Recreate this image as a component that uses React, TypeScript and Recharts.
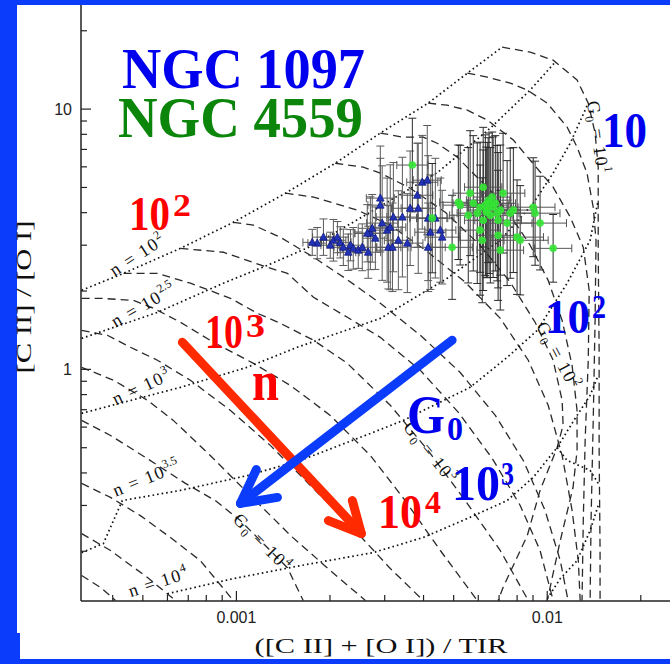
import React from 'react';
import { ComposedChart, Line, Scatter, XAxis, YAxis, ErrorBar } from 'recharts';

// all values are log10: x = log(([C II]+[O I])/TIR), y = log([C II]/[O I])

// PDR model grid, constant density n (dotted)
const nGrid2 = [[-3.498, 0.304], [-3.363, 0.369], [-3.18, 0.465], [-3.01, 0.565], [-2.842, 0.677], [-2.682, 0.792], [-2.537, 0.908], [-2.383, 1.023], [-2.257, 1.138], [-2.145, 1.238]];
const nGrid25 = [[-3.498, 0.119], [-3.254, 0.219], [-3.042, 0.331], [-2.9, 0.4], [-2.752, 0.477], [-2.569, 0.604], [-2.351, 0.758], [-2.183, 0.927], [-2.055, 1.073], [-1.974, 1.181]];
const nGrid3 = [[-3.498, -0.169], [-3.18, -0.069], [-2.965, 0.008], [-2.804, 0.085], [-2.537, 0.196], [-2.322, 0.35], [-2.151, 0.496], [-2.045, 0.638], [-1.981, 0.754], [-1.926, 0.869], [-1.868, 1.023]];
const nGrid35 = [[-3.498, -0.704], [-3.428, -0.669], [-3.367, -0.504], [-3.18, -0.465], [-2.965, -0.408], [-2.794, -0.35], [-2.56, -0.242], [-2.463, -0.196], [-2.248, -0.069], [-2.129, 0.046], [-2.032, 0.15], [-1.936, 0.331], [-1.862, 0.496], [-1.836, 0.65]];
const nGrid4 = [[-3.222, -0.862], [-3.01, -0.804], [-2.794, -0.754], [-2.56, -0.704], [-2.399, -0.646], [-2.257, -0.573], [-2.129, -0.504], [-2.045, -0.415], [-1.968, -0.3], [-1.91, -0.188], [-1.862, -0.1], [-1.836, -0.023]];
const nGrid45 = [[-1.968, -0.3], [-1.936, -0.35], [-1.862, -0.388], [-1.836, -0.438]];
const nGrid5 = [[-2.0, -0.881], [-1.958, -0.804], [-1.904, -0.735], [-1.862, -0.619], [-1.836, -0.523]];

// constant G0 (dashed)
const g100 = [[-2.145, 1.238], [-2.055, 1.219], [-1.981, 1.188], [-1.904, 1.112], [-1.868, 1.023], [-1.846, 0.908], [-1.836, 0.777], [-1.836, 0.458], [-1.833, 0.073], [-1.833, -0.312], [-1.83, -0.696], [-1.83, -0.888]];
const g125 = [[-2.257, 1.138], [-2.193, 1.123], [-2.119, 1.1], [-2.064, 1.073], [-2.0, 1.023], [-1.936, 0.931], [-1.904, 0.854], [-1.872, 0.754], [-1.852, 0.623], [-1.843, 0.496], [-1.846, 0.188], [-1.852, -0.196], [-1.859, -0.581], [-1.862, -0.888]];
const g150 = [[-2.383, 1.023], [-2.322, 1.015], [-2.257, 0.996], [-2.193, 0.958], [-2.109, 0.881], [-2.055, 0.804], [-1.981, 0.7], [-1.926, 0.585], [-1.884, 0.469], [-1.865, 0.304], [-1.868, 0.035], [-1.878, -0.273], [-1.884, -0.581], [-1.888, -0.888]];
const g175 = [[-2.537, 0.908], [-2.463, 0.892], [-2.399, 0.892], [-2.354, 0.869], [-2.289, 0.815], [-2.248, 0.765], [-2.183, 0.688], [-2.119, 0.592], [-2.055, 0.477], [-1.997, 0.342], [-1.952, 0.188], [-1.92, 0.015], [-1.904, -0.158], [-1.904, -0.312], [-1.917, -0.454], [-1.958, -0.658], [-2.0, -0.888]];
const g200 = [[-2.682, 0.792], [-2.592, 0.777], [-2.537, 0.754], [-2.441, 0.696], [-2.328, 0.604], [-2.216, 0.477], [-2.119, 0.335], [-2.039, 0.181], [-1.981, 0.035], [-1.952, -0.119], [-1.949, -0.215], [-1.968, -0.3], [-2.023, -0.465], [-2.064, -0.638], [-2.142, -0.838], [-2.158, -0.888]];
const g225 = [[-2.842, 0.677], [-2.752, 0.662], [-2.611, 0.612], [-2.505, 0.554], [-2.392, 0.458], [-2.264, 0.335], [-2.151, 0.196], [-2.061, 0.035], [-1.997, -0.138], [-1.952, -0.331], [-1.92, -0.542], [-1.9, -0.735], [-1.894, -0.888]];
const g250 = [[-3.01, 0.565], [-2.945, 0.554], [-2.859, 0.508], [-2.752, 0.431], [-2.65, 0.35], [-2.537, 0.254], [-2.408, 0.131], [-2.28, -0.012], [-2.167, -0.177], [-2.077, -0.35], [-2.007, -0.542], [-1.958, -0.735], [-1.933, -0.888]];
const g275 = [[-3.18, 0.465], [-3.042, 0.45], [-2.9, 0.392], [-2.836, 0.369], [-2.752, 0.277], [-2.643, 0.2], [-2.537, 0.123], [-2.408, -0.004], [-2.286, -0.165], [-2.177, -0.342], [-2.087, -0.523], [-2.023, -0.696], [-1.981, -0.888]];
const g300 = [[-3.363, 0.369], [-3.254, 0.369], [-3.148, 0.331], [-3.019, 0.273], [-2.932, 0.215], [-2.859, 0.177], [-2.752, 0.112], [-2.643, 0.023], [-2.505, -0.138], [-2.383, -0.312], [-2.264, -0.504], [-2.151, -0.696], [-2.061, -0.888]];
const g325 = [[-3.498, 0.273], [-3.437, 0.273], [-3.331, 0.265], [-3.267, 0.235], [-3.18, 0.181], [-3.074, 0.104], [-2.945, 0.023], [-2.826, -0.062], [-2.698, -0.177], [-2.569, -0.331], [-2.457, -0.504], [-2.344, -0.696], [-2.225, -0.888]];
const g350 = [[-3.498, 0.15], [-3.415, 0.131], [-3.341, 0.085], [-3.254, 0.035], [-3.148, -0.042], [-3.019, -0.158], [-2.891, -0.292], [-2.762, -0.446], [-2.633, -0.6], [-2.505, -0.765], [-2.399, -0.888]];
const g375 = [[-3.498, 0.008], [-3.395, -0.042], [-3.286, -0.119], [-3.203, -0.196], [-3.084, -0.331], [-2.955, -0.485], [-2.826, -0.638], [-2.698, -0.773], [-2.585, -0.888]];
const g400 = [[-3.498, -0.196], [-3.405, -0.254], [-3.293, -0.338], [-3.164, -0.438], [-3.068, -0.504], [-2.987, -0.581], [-2.907, -0.677], [-2.836, -0.762], [-2.785, -0.888]];
const g425 = [[-3.498, -0.438], [-3.405, -0.492], [-3.309, -0.562], [-3.212, -0.646], [-3.116, -0.735], [-3.01, -0.888]];
const g450 = [[-3.498, -0.631], [-3.405, -0.696], [-3.286, -0.8], [-3.196, -0.888]];
const g475 = [[-3.498, -0.792], [-3.437, -0.838], [-3.389, -0.888]];

// observations: [x, y, xErr, yErr] (dex)
const ngc1097 = [
  [-2.74, 0.485, 0.03, 0.06], [-2.72, 0.508, 0.035, 0.07], [-2.698, 0.477, 0.03, 0.05], [-2.688, 0.496, 0.04, 0.08],
  [-2.666, 0.488, 0.035, 0.06], [-2.656, 0.469, 0.03, 0.07], [-2.633, 0.477, 0.04, 0.06], [-2.624, 0.465, 0.035, 0.08],
  [-2.608, 0.458, 0.03, 0.07], [-2.595, 0.469, 0.045, 0.09], [-2.576, 0.45, 0.04, 0.1], [-2.569, 0.523, 0.05, 0.14],
  [-2.553, 0.504, 0.04, 0.12], [-2.537, 0.658, 0.045, 0.2], [-2.537, 0.631, 0.04, 0.18], [-2.531, 0.562, 0.05, 0.22],
  [-2.515, 0.535, 0.045, 0.2], [-2.505, 0.546, 0.05, 0.24], [-2.511, 0.469, 0.04, 0.16], [-2.495, 0.585, 0.055, 0.21],
  [-2.479, 0.496, 0.045, 0.19], [-2.466, 0.585, 0.05, 0.23], [-2.441, 0.619, 0.06, 0.22], [-2.418, 0.669, 0.05, 0.2],
  [-2.415, 0.619, 0.055, 0.25], [-2.402, 0.719, 0.05, 0.18], [-2.386, 0.727, 0.045, 0.21], [-2.383, 0.581, 0.06, 0.24],
  [-2.376, 0.527, 0.05, 0.22], [-2.383, 0.469, 0.055, 0.17], [-2.36, 0.581, 0.06, 0.23], [-2.344, 0.535, 0.05, 0.2],
  [-2.338, 0.508, 0.055, 0.18], [-2.45, 0.485, 0.05, 0.19], [-2.579, 0.523, 0.04, 0.11], [-2.675, 0.508, 0.035, 0.06],
  [-2.563, 0.542, 0.045, 0.13], [-2.498, 0.469, 0.05, 0.17], [-2.756, 0.488, 0.03, 0.05], [-2.64, 0.45, 0.035, 0.07],
];
const ngc4559 = [
  [-2.434, 0.785, 0.05, 0.18], [-2.286, 0.642, 0.06, 0.22], [-2.248, 0.677, 0.055, 0.24], [-2.238, 0.638, 0.065, 0.26],
  [-2.216, 0.623, 0.07, 0.25], [-2.206, 0.7, 0.06, 0.23], [-2.199, 0.631, 0.075, 0.27], [-2.193, 0.612, 0.065, 0.26],
  [-2.19, 0.65, 0.07, 0.24], [-2.177, 0.662, 0.06, 0.25], [-2.174, 0.623, 0.08, 0.27], [-2.161, 0.6, 0.07, 0.26],
  [-2.151, 0.612, 0.065, 0.25], [-2.142, 0.677, 0.07, 0.23], [-2.158, 0.573, 0.075, 0.26], [-2.129, 0.562, 0.08, 0.24],
  [-2.119, 0.6, 0.07, 0.25], [-2.206, 0.573, 0.06, 0.27], [-2.216, 0.535, 0.065, 0.25], [-2.209, 0.496, 0.07, 0.24],
  [-2.097, 0.508, 0.085, 0.22], [-2.087, 0.496, 0.09, 0.21], [-2.045, 0.623, 0.07, 0.19], [-2.039, 0.6, 0.08, 0.2],
  [-2.023, 0.562, 0.085, 0.18], [-1.981, 0.465, 0.06, 0.13], [-2.306, 0.469, 0.065, 0.2], [-2.151, 0.458, 0.075, 0.23],
  [-2.254, 0.592, 0.06, 0.26], [-2.225, 0.6, 0.065, 0.27], [-2.183, 0.592, 0.07, 0.26], [-2.109, 0.612, 0.075, 0.24],
  [-2.158, 0.515, 0.07, 0.25], [-2.167, 0.638, 0.065, 0.26], [-2.187, 0.638, 0.07, 0.27], [-2.196, 0.604, 0.06, 0.25],
  [-2.28, 0.631, 0.055, 0.23], [-2.37, 0.581, 0.05, 0.21],
];

// annotation arrows (n and G0 directions)
const nArrow = [[-3.174, 0.104], [-2.598, -0.631]];
const nArrowHead = [[-2.704, -0.581], [-2.598, -0.631], [-2.627, -0.504]];
const gArrow = [[-2.306, 0.112], [-2.987, -0.515]];
const gArrowHead = [[-2.936, -0.385], [-2.987, -0.515], [-2.868, -0.492]];

// axis ticks
const xMajorTicks = [0.001, 0.01];
const xMajorLabels = ['0.001', '0.01'];
const xMinorTicks = [0.0004, 0.0005, 0.0006, 0.0007, 0.0008, 0.0009, 0.002, 0.003, 0.004, 0.005, 0.006, 0.007, 0.008, 0.009, 0.02];
const yMajorTicks = [1, 10];
const yMajorLabels = ['1', '10'];
const yMinorTicks = [0.2, 0.3, 0.4, 0.5, 0.6, 0.7, 0.8, 0.9, 2, 3, 4, 5, 6, 7, 8, 9, 20];

const SERIF = '"Liberation Serif", "Times New Roman", serif';
const SANS = '"Liberation Sans", Arial, sans-serif';

const nCurves = [nGrid2, nGrid25, nGrid3, nGrid35, nGrid4, nGrid45, nGrid5];
const gCurves = [g100, g125, g150, g175, g200, g225, g250, g275, g300, g325, g350, g375, g400, g425, g450, g475];

const toPts = (c: number[][]) => c.map(([x, y]) => ({ x, y }));
const toObs = (c: number[][]) => c.map(([x, y, ex, ey]) => ({ x, y, ex, ey }));
const logs = (a: number[]) => a.map((v) => Math.log10(v));
const near = (a: number, b: number) => Math.abs(a - b) < 1e-6;
const majorIndex = (majors: number[], v: number) => majors.findIndex((t) => near(Math.log10(t), v));

const xTicks = logs([...xMinorTicks, ...xMajorTicks]);
const yTicks = logs([...yMinorTicks, ...yMajorTicks]);

const BottomTick = (p: any) => {
  const i = majorIndex(xMajorTicks, p.payload.value);
  return (
    <g>
      <line x1={p.x} y1={p.y} x2={p.x} y2={p.y - (i >= 0 ? 10 : 6)} stroke="#222" strokeWidth={1.2} />
      {i >= 0 && (
        <text x={p.x} y={p.y + 22} textAnchor="middle" fontSize={16} fontFamily={SANS} fill="#222">
          {xMajorLabels[i]}
        </text>
      )}
    </g>
  );
};

const TopTick = (p: any) => {
  const i = majorIndex(xMajorTicks, p.payload.value);
  return <line x1={p.x} y1={p.y} x2={p.x} y2={p.y + (i >= 0 ? 10 : 6)} stroke="#222" strokeWidth={1.2} />;
};

const LeftTick = (p: any) => {
  const i = majorIndex(yMajorTicks, p.payload.value);
  return (
    <g>
      <line x1={p.x} y1={p.y} x2={p.x + (i >= 0 ? 10 : 6)} y2={p.y} stroke="#222" strokeWidth={1.2} />
      {i >= 0 && (
        <text x={p.x - 9} y={p.y + 6} textAnchor="end" fontSize={16} fontFamily={SANS} fill="#222">
          {yMajorLabels[i]}
        </text>
      )}
    </g>
  );
};

const RightTick = (p: any) => {
  const i = majorIndex(yMajorTicks, p.payload.value);
  if (i < 0) return <g />;
  return <line x1={p.x - 10} y1={p.y} x2={p.x} y2={p.y} stroke="#222" strokeWidth={1.2} />;
};

const Tri = (p: any) => (
  <polygon
    points={`${p.cx},${p.cy - 4.2} ${p.cx - 3.8},${p.cy + 3} ${p.cx + 3.8},${p.cy + 3}`}
    fill="#2233b8"
    stroke="#101a80"
    strokeWidth={0.8}
  />
);

const Dot = (p: any) => <circle cx={p.cx} cy={p.cy} r={3.8} fill="#33e633" fillOpacity={0.9} />;

const Small = ({ cx, cy, angle, children }: any) => (
  <text
    x={cx}
    y={cy + 6}
    transform={`rotate(${angle} ${cx} ${cy})`}
    textAnchor="middle"
    fontSize={18}
    fontFamily={SERIF}
    fill="#111"
    letterSpacing={1.5}
  >
    {children}
  </text>
);

const Sup = ({ children }: any) => (
  <tspan fontSize={12} dy={-8} letterSpacing={0}>
    {children}
  </tspan>
);

const G0 = () => (
  <>
    G<tspan fontSize={12} dy={4}>0</tspan>
    <tspan dy={-4}> = 10</tspan>
  </>
);

const axisIds = { xAxisId: 'b', yAxisId: 'l' };

export default function App() {
  return (
    <div style={{ position: 'absolute', left: 0, top: 0, width: 670, height: 664, overflow: 'hidden', background: '#0b3cfb' }}>
      <div style={{ position: 'absolute', left: 17, top: 5, width: 653, height: 628, background: '#fff' }} />
      <div style={{ position: 'absolute', left: 20, top: 633, width: 650, height: 26, background: '#fff' }} />
      <div style={{ position: 'absolute', left: 0, top: 0 }}>
        <ComposedChart width={670} height={664} margin={{ top: 5, right: 0, bottom: 0, left: 0 }}>
          <XAxis
            xAxisId="b"
            dataKey="x"
            type="number"
            domain={[-3.5, -1.605]}
            allowDataOverflow
            ticks={xTicks}
            interval={0}
            tickSize={0}
            tickMargin={0}
            tickLine={false}
            tick={BottomTick}
            height={63}
            axisLine={{ stroke: '#222', strokeWidth: 1.5 }}
          />
          <XAxis
            xAxisId="t"
            orientation="top"
            type="number"
            domain={[-3.5, -1.605]}
            allowDataOverflow
            ticks={xTicks}
            interval={0}
            tickSize={0}
            tickMargin={0}
            tickLine={false}
            tick={TopTick}
            height={0}
            axisLine={false}
          />
          <YAxis
            yAxisId="l"
            dataKey="y"
            type="number"
            domain={[-0.89, 1.4]}
            allowDataOverflow
            ticks={yTicks}
            interval={0}
            tickSize={0}
            tickMargin={0}
            tickLine={false}
            tick={LeftTick}
            width={81}
            axisLine={{ stroke: '#222', strokeWidth: 1.5 }}
          />
          <YAxis
            yAxisId="r"
            orientation="right"
            type="number"
            domain={[-0.89, 1.4]}
            allowDataOverflow
            ticks={logs(yMajorTicks)}
            interval={0}
            tickSize={0}
            tickMargin={0}
            tickLine={false}
            tick={RightTick}
            width={0}
            axisLine={false}
          />

          {gCurves.map((c, i) => (
            <Line
              key={`g${i}`}
              {...axisIds}
              data={toPts(c)}
              dataKey="y"
              type="linear"
              dot={false}
              activeDot={false}
              stroke="#2a2a2a"
              strokeWidth={1.3}
              strokeDasharray="8 5"
              isAnimationActive={false}
            />
          ))}
          {nCurves.map((c, i) => (
            <Line
              key={`n${i}`}
              {...axisIds}
              data={toPts(c)}
              dataKey="y"
              type="linear"
              dot={false}
              activeDot={false}
              stroke="#111"
              strokeWidth={1.7}
              strokeDasharray="1.6 3"
              isAnimationActive={false}
            />
          ))}

          <Scatter {...axisIds} data={toObs(ngc1097)} dataKey="y" shape={Tri} isAnimationActive={false}>
            <ErrorBar dataKey="ey" direction="y" width={4} stroke="#5a5a5a" strokeWidth={1} />
            <ErrorBar dataKey="ex" direction="x" width={4} stroke="#5a5a5a" strokeWidth={1} />
          </Scatter>
          <Scatter {...axisIds} data={toObs(ngc4559)} dataKey="y" shape={Dot} isAnimationActive={false}>
            <ErrorBar dataKey="ey" direction="y" width={4} stroke="#2a2a2a" strokeWidth={1} />
            <ErrorBar dataKey="ex" direction="x" width={4} stroke="#555" strokeWidth={1} />
          </Scatter>

          {[nArrow, nArrowHead].map((c, i) => (
            <Line
              key={`na${i}`}
              {...axisIds}
              data={toPts(c)}
              dataKey="y"
              type="linear"
              dot={false}
              activeDot={false}
              stroke="#ff2a00"
              strokeWidth={9}
              strokeLinecap="round"
              strokeLinejoin="round"
              isAnimationActive={false}
            />
          ))}
          {[gArrow, gArrowHead].map((c, i) => (
            <Line
              key={`ga${i}`}
              {...axisIds}
              data={toPts(c)}
              dataKey="y"
              type="linear"
              dot={false}
              activeDot={false}
              stroke="#0b3cfb"
              strokeWidth={9}
              strokeLinecap="round"
              strokeLinejoin="round"
              isAnimationActive={false}
            />
          ))}
        </ComposedChart>
      </div>

      <svg width={670} height={664} style={{ position: 'absolute', left: 0, top: 0, pointerEvents: 'none' }}>
        <text x={31} y={297} transform="rotate(-90 31 297)" textAnchor="middle" fontSize={20} fontFamily={SERIF} fill="#111" textLength={153} lengthAdjust="spacingAndGlyphs">
          [C II] / [O I]
        </text>
        <text x={381} y={653} textAnchor="middle" fontSize={22} fontFamily={SERIF} fill="#111" textLength={253} lengthAdjust="spacingAndGlyphs">
          ([C II] + [O I]) / TIR
        </text>

        <Small cx={137} cy={255} angle={-33}>n = 10<Sup>2</Sup></Small>
        <Small cx={143} cy={305} angle={-30}>n = 10<Sup>2.5</Sup></Small>
        <Small cx={141} cy={387} angle={-25}>n = 10<Sup>3</Sup></Small>
        <Small cx={146} cy={478} angle={-22}>n = 10<Sup>3.5</Sup></Small>
        <Small cx={158} cy={582} angle={-18}>n = 10<Sup>4</Sup></Small>
        <Small cx={262} cy={542} angle={45}><G0 /><Sup>4</Sup></Small>
        <Small cx={430} cy={452} angle={51}><G0 /><Sup>3</Sup></Small>
        <Small cx={558} cy={355} angle={62}><G0 /><Sup>2</Sup></Small>
        <Small cx={598} cy={137} angle={82}><G0 /><Sup>1</Sup></Small>

        <g fontFamily={SERIF} fontWeight="bold">
          <text x={122} y={88} fontSize={56} fill="#0000ee" textLength={243} lengthAdjust="spacingAndGlyphs">NGC 1097</text>
          <text x={118} y={137} fontSize={56} fill="#0b860b" textLength={245} lengthAdjust="spacingAndGlyphs">NGC 4559</text>

          <g fill="#ff0000">
            <text x={129} y={230} fontSize={48} textLength={41} lengthAdjust="spacingAndGlyphs">10</text>
            <text x={173} y={216} fontSize={32} textLength={18} lengthAdjust="spacingAndGlyphs">2</text>
            <text x={205} y={348} fontSize={48} textLength={38} lengthAdjust="spacingAndGlyphs">10</text>
            <text x={246} y={337} fontSize={34} textLength={19} lengthAdjust="spacingAndGlyphs">3</text>
            <text x={252} y={400} fontSize={56} textLength={27} lengthAdjust="spacingAndGlyphs">n</text>
            <text x={378} y={528} fontSize={48} textLength={44} lengthAdjust="spacingAndGlyphs">10</text>
            <text x={425} y={513} fontSize={31} textLength={16} lengthAdjust="spacingAndGlyphs">4</text>
          </g>
          <g fill="#0000ee">
            <text x={602} y={147} fontSize={50} textLength={45} lengthAdjust="spacingAndGlyphs">10</text>
            <text x={545} y={333} fontSize={48} textLength={45} lengthAdjust="spacingAndGlyphs">10</text>
            <text x={592} y={318} fontSize={33} textLength={14} lengthAdjust="spacingAndGlyphs">2</text>
            <text x={407} y={433} fontSize={55} textLength={38} lengthAdjust="spacingAndGlyphs">G</text>
            <text x={447} y={440} fontSize={34} textLength={16} lengthAdjust="spacingAndGlyphs">0</text>
            <text x={452} y={500} fontSize={51} textLength={48} lengthAdjust="spacingAndGlyphs">10</text>
            <text x={501} y={485} fontSize={33} textLength={13} lengthAdjust="spacingAndGlyphs">3</text>
          </g>
        </g>
      </svg>
    </div>
  );
}
